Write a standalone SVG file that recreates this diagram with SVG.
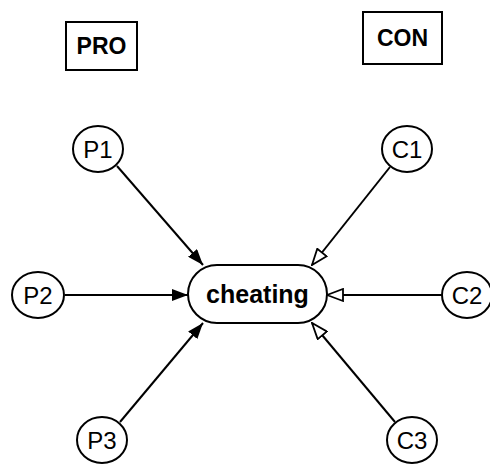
<svg xmlns="http://www.w3.org/2000/svg" width="490" height="466" viewBox="0 0 490 466">
  <style>
    .box { fill: #fff; stroke: #000; stroke-width: 2; }
    .node { fill: #fff; stroke: #000; stroke-width: 2; }
    .lbl { font-family: "Liberation Sans", Arial, sans-serif; font-size: 24px; fill: #000; text-anchor: middle; }
    .hdr { font-family: "Liberation Sans", Arial, sans-serif; font-size: 23px; font-weight: bold; fill: #000; text-anchor: middle; }
    .main { font-family: "Liberation Sans", Arial, sans-serif; font-size: 25px; font-weight: bold; fill: #000; text-anchor: middle; }
    .edge { stroke: #000; stroke-width: 2; fill: none; }
    .pro { marker-end: url(#solid); }
    .con { marker-end: url(#hollow); }
  </style>
  <defs>
    <marker id="solid" viewBox="0 0 16 12" refX="16" refY="6" markerWidth="16" markerHeight="12" markerUnits="userSpaceOnUse" orient="auto">
      <path d="M0,0 L16,6 L0,12 Z" fill="#000"/>
    </marker>
    <marker id="hollow" viewBox="-1 -1 18 14" refX="16" refY="6" markerWidth="18" markerHeight="14" markerUnits="userSpaceOnUse" orient="auto">
      <path d="M0,0 L16,6 L0,12 Z" fill="#fff" stroke="#000" stroke-width="1.8"/>
    </marker>
  </defs>

  <g id="pro-header">
    <rect class="box" x="66" y="22" width="71" height="48"/>
    <text class="hdr" x="101.5" y="54">PRO</text>
  </g>
  <g id="con-header">
    <rect class="box" x="363" y="12" width="79" height="52"/>
    <text class="hdr" x="402.5" y="46">CON</text>
  </g>

  <g id="connectors">
    <line class="edge pro" x1="117" y1="166" x2="203" y2="265"/>
    <line class="edge pro" x1="65" y1="295" x2="188" y2="295"/>
    <line class="edge pro" x1="120" y1="422" x2="203" y2="323"/>
    <line class="edge con" x1="390" y1="167" x2="312" y2="265"/>
    <line class="edge con" x1="442" y1="295" x2="327" y2="295"/>
    <line class="edge con" x1="395" y1="422" x2="312" y2="323"/>
  </g>

  <g id="cheating">
    <rect class="node" x="188" y="265" width="139" height="58" rx="29" ry="29"/>
    <text class="main" x="257.5" y="303">cheating</text>
  </g>
  <g id="P1">
    <ellipse class="node" cx="98" cy="149" rx="25" ry="23"/>
    <text class="lbl" x="98" y="158">P1</text>
  </g>
  <g id="P2">
    <ellipse class="node" cx="38" cy="295" rx="26" ry="23"/>
    <text class="lbl" x="38" y="304">P2</text>
  </g>
  <g id="P3">
    <ellipse class="node" cx="102" cy="440" rx="25" ry="23"/>
    <text class="lbl" x="102" y="449">P3</text>
  </g>
  <g id="C1">
    <ellipse class="node" cx="407" cy="149" rx="25" ry="23"/>
    <text class="lbl" x="407" y="158">C1</text>
  </g>
  <g id="C2">
    <ellipse class="node" cx="467" cy="295" rx="25" ry="23"/>
    <text class="lbl" x="467" y="304">C2</text>
  </g>
  <g id="C3">
    <ellipse class="node" cx="412" cy="440" rx="25" ry="23"/>
    <text class="lbl" x="412" y="449">C3</text>
  </g>
</svg>
